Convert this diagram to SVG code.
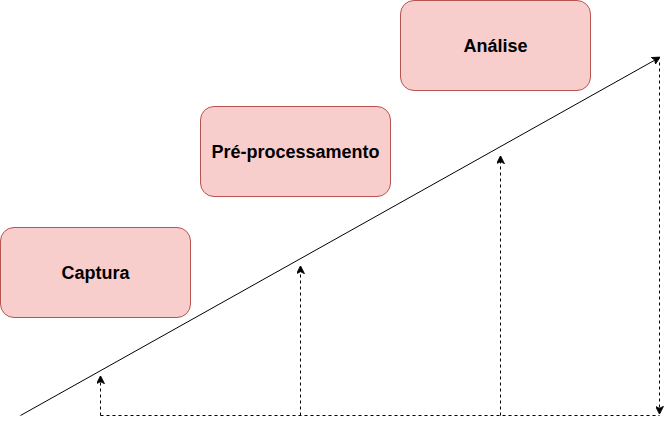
<svg xmlns="http://www.w3.org/2000/svg" width="669" height="425" viewBox="0 0 669 425">
<style>
.box{fill:#f8cecc;stroke:#b85450;stroke-width:1}
.lbl{font-family:"Liberation Sans",Arial,sans-serif;font-weight:bold;font-size:18px;fill:#000;text-anchor:middle}
.solid{fill:none;stroke:#000;stroke-width:1}
.dash{fill:none;stroke:#000;stroke-width:1;stroke-dasharray:3 3}
</style>
<defs>
<marker id="ah" viewBox="0 0 10 10" refX="9" refY="5" markerWidth="8" markerHeight="8" markerUnits="userSpaceOnUse" orient="auto">
<path d="M0,0 L10,5 L0,10 L2.5,5 Z" fill="#000" stroke="#000" stroke-width="1"/>
</marker>
</defs>
<rect width="669" height="425" fill="#fff"/>
<g id="captura"><rect class="box" x="0.5" y="227.5" width="190" height="90" rx="13.5"/><text class="lbl" x="95.5" y="278.5">Captura</text></g>
<g id="preprocessamento"><rect class="box" x="200.5" y="106.5" width="190" height="90" rx="13.5"/><text class="lbl" x="295.5" y="157.5">Pré-processamento</text></g>
<g id="analise"><rect class="box" x="400.5" y="0.5" width="190" height="90" rx="13.5"/><text class="lbl" x="495.5" y="51.5">Análise</text></g>
<g id="connectors">
<path class="solid" d="M20.5,415.5 L659.5,57.5" marker-end="url(#ah)"/>
<path class="dash" d="M100.5,415.5 L100.5,376.5" marker-end="url(#ah)"/>
<path class="dash" d="M300.5,415.5 L300.5,266.5" marker-end="url(#ah)"/>
<path class="dash" d="M500.5,415.5 L500.5,156.5" marker-end="url(#ah)"/>
<path class="dash" d="M100.5,415.5 L659.5,415.5"/>
<path class="dash" d="M659.5,62.5 L659.5,413.5" marker-end="url(#ah)"/>
</g>
</svg>
